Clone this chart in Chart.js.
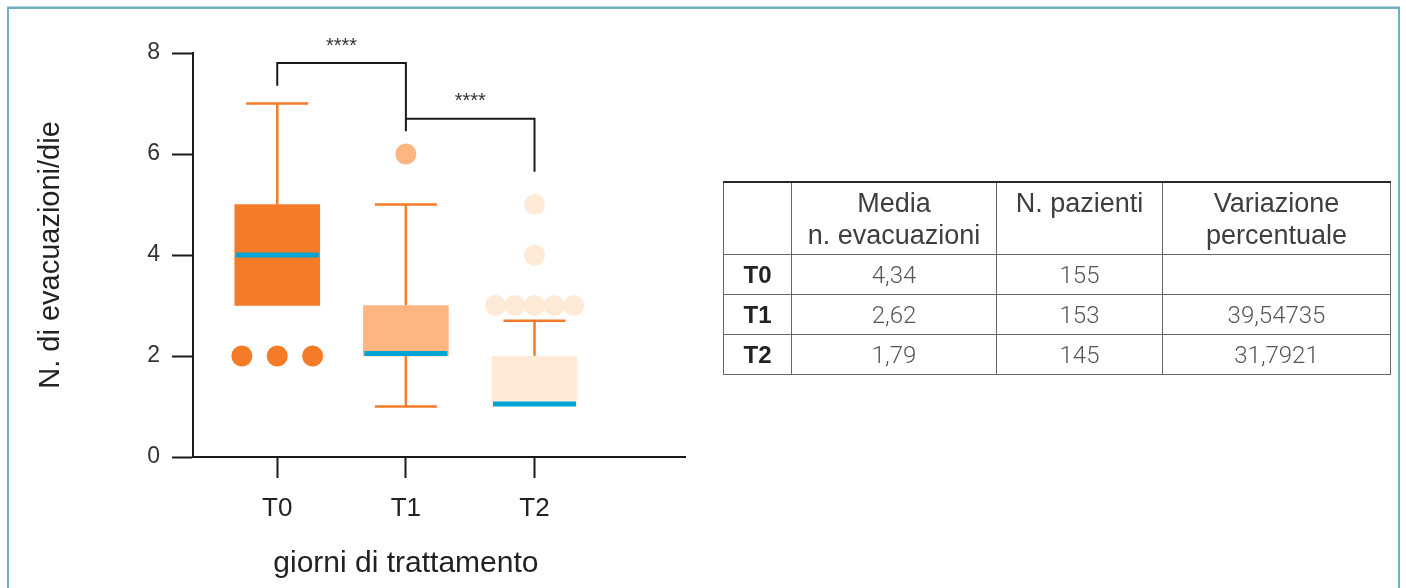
<!DOCTYPE html>
<html lang="it">
<head>
<meta charset="utf-8">
<title>N. di evacuazioni/die</title>
<script src="https://cdn.jsdelivr.net/npm/chart.js@4.4.1/dist/chart.umd.min.js"></script>
<style>
  html, body { margin: 0; padding: 0; background: #fff; }
  body { width: 1406px; height: 588px; position: relative; overflow: hidden;
         font-family: "Liberation Sans", Arial, sans-serif; }
  #frame { position: absolute; left: 7px; top: 7px; width: 1389px; height: 620px;
           border: 2px solid #6fb0c4; border-bottom: none; box-shadow: 0 -1px 0 #b9d6df; }
  #chart { position: absolute; left: 0; top: 0; }
  #tbl { position: absolute; left: 723px; top: 181px; width: 667px; border-collapse: collapse;
         table-layout: fixed; }
  #tbl th, #tbl td { border: 1px solid #666; padding: 0; text-align: center; }
  #tbl thead tr { border-top: 2px solid #2a2a2a; }
  #tbl th { height: 67px; vertical-align: top; font-weight: normal; font-size: 27px;
            line-height: 32px; color: #3e3e3e; padding-top: 4px; }
  #tbl td { height: 39px; font-size: 24px; color: #555; font-family: Roboto, sans-serif; font-weight: 300; }
  #tbl td.lab { font-family: "Liberation Sans", Arial, sans-serif; font-weight: bold; color: #222; font-size: 24px; }
</style>
</head>
<body>
<div id="frame"></div>
<canvas id="chart" width="1406" height="588"></canvas>
<table id="tbl">
  <colgroup><col style="width:68px"><col style="width:205px"><col style="width:166px"><col style="width:228px"></colgroup>
  <thead><tr id="headRow"></tr></thead>
  <tbody id="bodyRows"></tbody>
</table>
<script>
// ---- data ----
const categories   = ['T0', 'T1', 'T2'];
const boxLow       = [3, 2, 1];
const boxHigh      = [5, 3, 2];
const medians      = [4, 2, 1];
const whiskerLow   = [3, 1, 1];
const whiskerHigh  = [7, 5, 2.7];
const outliersT0   = [2, 2, 2];
const outliersT1   = [6];
const outliersT2   = [5, 4, 3, 3, 3, 3, 3];
const yTicks       = [0, 2, 4, 6, 8];
const xTitle       = 'giorni di trattamento';
const yTitle       = 'N. di evacuazioni/die';

// significance brackets between groups
const bracketFrom     = [0, 1];
const bracketTo       = [1, 2];
const bracketTop      = [7.8, 6.7];
const bracketLeftEnd  = [7.35, 6.7];
const bracketRightEnd = [6.45, 5.65];
const bracketLabel    = ['****', '****'];

// summary table
const tableHeaders   = ['', 'Media<br>n. evacuazioni', 'N. pazienti', 'Variazione<br>percentuale'];
const mediaEvac      = ['4,34', '2,62', '1,79'];
const nPazienti      = ['155', '153', '145'];
const variazione     = ['', '39,54735', '31,7921'];

// ---- styles ----
const boxColors    = ['#F47B28', '#FFB581', '#FFE9D7'];
const whiskerColor = '#F47B28';
const medianColor  = '#03A5D4';
const outlierSpread = [0.275, 0, 0.152];   // horizontal spread of repeated outliers (x units)
const FONT = '"Liberation Sans", Arial, sans-serif';

// ---- table ----
document.getElementById('headRow').innerHTML =
  tableHeaders.map(h => '<th>' + h + '</th>').join('');
document.getElementById('bodyRows').innerHTML = categories.map((c, i) =>
  '<tr><td class="lab">' + c + '</td><td>' + mediaEvac[i] + '</td><td>' +
  nPazienti[i] + '</td><td>' + variazione[i] + '</td></tr>').join('');

// ---- chart ----
Chart.defaults.font.family = FONT;
Chart.defaults.color = '#333';

function spreadPoints(values, group, spread) {
  const counts = {};
  values.forEach(v => { counts[v] = (counts[v] || 0) + 1; });
  const seen = {};
  return values.map(v => {
    const n = counts[v];
    const k = seen[v] = (seen[v] === undefined ? 0 : seen[v] + 1);
    return { x: group + (k - (n - 1) / 2) * spread, y: v };
  });
}
const outlierSets = [outliersT0, outliersT1, outliersT2];

const boxDecor = {
  id: 'boxDecor',
  beforeDatasetsDraw(chart) {
    const { ctx, scales: { x, y } } = chart;
    ctx.save();
    ctx.strokeStyle = whiskerColor;
    ctx.lineWidth = 2.5;
    const capHalf = 31;
    categories.forEach((c, i) => {
      const cx = x.getPixelForValue(i);
      const segs = [[boxHigh[i], whiskerHigh[i]], [boxLow[i], whiskerLow[i]]];
      segs.forEach(([from, to]) => {
        if (from === to) return;
        const y0 = y.getPixelForValue(from), y1 = y.getPixelForValue(to);
        ctx.beginPath();
        ctx.moveTo(cx, y0); ctx.lineTo(cx, y1);
        ctx.moveTo(cx - capHalf, y1); ctx.lineTo(cx + capHalf, y1);
        ctx.stroke();
      });
    });
    ctx.restore();
  },
  afterDatasetsDraw(chart) {
    const { ctx, scales: { x, y } } = chart;
    const meta = chart.getDatasetMeta(0);
    ctx.save();
    // medians, kept inside each box
    ctx.fillStyle = medianColor;
    const th = 5;
    categories.forEach((c, i) => {
      const bar = meta.data[i];
      const half = bar.width / 2;
      const yTop = y.getPixelForValue(boxHigh[i]);
      const yBot = y.getPixelForValue(boxLow[i]);
      let ym = y.getPixelForValue(medians[i]) - th / 2;
      ym = Math.max(yTop, Math.min(ym, yBot - th));
      ctx.fillRect(bar.x - half + 1, ym, bar.width - 2, th);
    });
    // significance brackets
    ctx.strokeStyle = '#1a1a1a';
    ctx.lineWidth = 2;
    ctx.fillStyle = '#333';
    ctx.font = '20px ' + FONT;
    ctx.textAlign = 'center';
    ctx.textBaseline = 'middle';
    bracketFrom.forEach((f, k) => {
      const x0 = x.getPixelForValue(f), x1 = x.getPixelForValue(bracketTo[k]);
      const yt = y.getPixelForValue(bracketTop[k]);
      ctx.beginPath();
      ctx.moveTo(x0, y.getPixelForValue(bracketLeftEnd[k]));
      ctx.lineTo(x0, yt);
      ctx.lineTo(x1, yt);
      ctx.lineTo(x1, y.getPixelForValue(bracketRightEnd[k]));
      ctx.stroke();
      ctx.fillText(bracketLabel[k], (x0 + x1) / 2, yt - 17);
    });
    // x-axis title, centred under the middle group
    ctx.fillStyle = '#222';
    ctx.font = '30px ' + FONT;
    ctx.textBaseline = 'alphabetic';
    ctx.fillText(xTitle, x.getPixelForValue((categories.length - 1) / 2), x.bottom - 16);
    ctx.restore();
  }
};

const datasets = [{
  type: 'bar',
  data: categories.map((c, i) => ({ x: i, y: [boxLow[i], boxHigh[i]] })),
  backgroundColor: boxColors,
  borderWidth: 0,
  barThickness: 85,
  grouped: false
}].concat(outlierSets.map((vals, i) => ({
  type: 'scatter',
  data: spreadPoints(vals, i, outlierSpread[i]),
  backgroundColor: boxColors[i],
  borderWidth: 0,
  pointRadius: 10.5,
  pointHoverRadius: 10.5
})));

new Chart(document.getElementById('chart'), {
  type: 'bar',
  data: { datasets },
  plugins: [boxDecor],
  options: {
    responsive: false,
    animation: false,
    events: [],
    layout: { padding: { top: 53, right: 721, bottom: 0, left: 0 } },
    plugins: { legend: { display: false }, tooltip: { enabled: false } },
    scales: {
      x: {
        type: 'linear',
        offset: false,
        min: -0.655,
        max: 3.17,
        afterBuildTicks: s => { s.ticks = categories.map((c, i) => ({ value: i })); },
        afterFit: s => { s.height = 131; },
        ticks: {
          callback: v => categories[v] ?? '',
          font: { size: 26 },
          color: '#222',
          padding: 15,
          maxRotation: 0,
          autoSkip: false
        },
        grid: { offset: false, drawOnChartArea: false, drawTicks: true, tickLength: 21, tickColor: '#1a1a1a', tickWidth: 2 },
        border: { display: true, color: '#1a1a1a', width: 2 },
        title: { display: false }
      },
      y: {
        type: 'linear',
        min: 0,
        max: 8,
        afterBuildTicks: s => { s.ticks = yTicks.map(v => ({ value: v })); },
        afterFit: s => { s.width = 193; },
        ticks: { font: { size: 23 }, color: '#333', padding: 12 },
        grid: { drawOnChartArea: false, drawTicks: true, tickLength: 21, tickColor: '#1a1a1a', tickWidth: 2 },
        border: { display: true, color: '#1a1a1a', width: 2 },
        title: {
          display: true,
          text: yTitle,
          font: { size: 29 },
          color: '#222',
          padding: { top: 34, bottom: 0 }
        }
      }
    }
  }
});
</script>
</body>
</html>
